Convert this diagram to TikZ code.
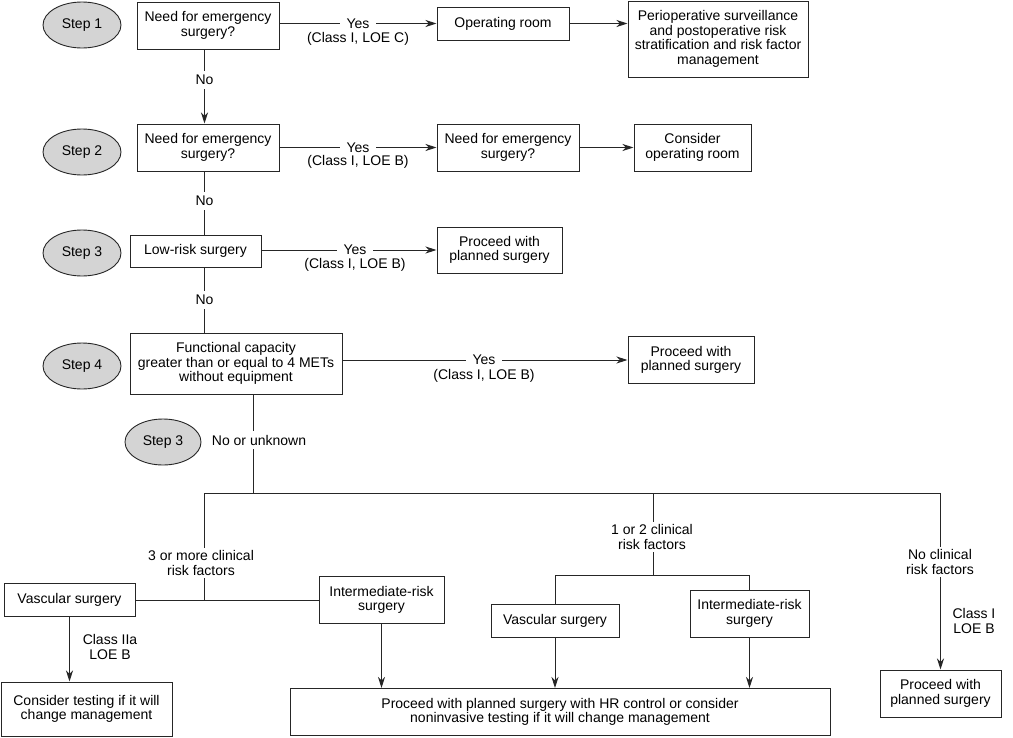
\documentclass[tikz,border=0pt]{standalone}
\usepackage{fontspec}
\setmainfont{Liberation Sans}
\usetikzlibrary{arrows.meta,shapes.geometric}
\begin{document}
\begin{tikzpicture}[x=1pt,y=-1pt,
  every node/.style={font=\fontsize{14}{14.6}\selectfont, text=black},
  box/.style={draw=black!85, line width=1pt, align=center, inner sep=0pt},
  stepel/.style={ellipse, draw=black!85, line width=0.9pt, fill=black!17, minimum width=78pt, minimum height=46pt, inner sep=0pt},
  line/.style={draw=black!85, line width=1pt},
  arr/.style={line, -{Stealth[length=11pt,width=7pt,inset=3.5pt]}},
  lbl/.style={fill=white, inner xsep=7pt, inner ysep=4pt, align=center},
  note/.style={inner sep=0pt, align=center},
]
\useasboundingbox (0,0) rectangle (1013,737);

% step ellipses
\node[stepel] (s1) at (82,25) {Step 1};
\node[stepel] (s2) at (82,152) {Step 2};
\node[stepel] (s3) at (82,253) {Step 3};
\node[stepel] (s4) at (82,366) {Step 4};
\node[stepel, minimum width=76pt] (s3b) at (163,442) {Step 3};

% boxes
\node[box, minimum width=142pt, minimum height=47pt] (b1) at (208,25.5) {Need for emergency\\surgery?};
\node[box, minimum width=132pt, minimum height=33pt] (op) at (503,23.5) {Operating room};
\node[box, minimum width=180pt, minimum height=76pt] (peri) at (718,39) {Perioperative surveillance\\and postoperative risk\\stratification and risk factor\\management};

\node[box, minimum width=142pt, minimum height=47pt] (b2) at (208,147.5) {Need for emergency\\surgery?};
\node[box, minimum width=142pt, minimum height=47pt] (ne2) at (508,147.5) {Need for emergency\\surgery?};
\node[box, minimum width=117pt, minimum height=47pt] (cor) at (692.5,147.5) {Consider\\operating room};

\node[box, minimum width=131pt, minimum height=32pt] (lr) at (195.5,251) {Low-risk surgery};
\node[box, minimum width=125pt, minimum height=46pt] (p3) at (499.5,250) {Proceed with\\planned surgery};

\node[box, minimum width=212pt, minimum height=61pt] (func) at (236,363.5) {Functional capacity\\greater than or equal to 4 METs\\without equipment};
\node[box, minimum width=126pt, minimum height=47pt] (p4) at (691,360) {Proceed with\\planned surgery};

\node[box, minimum width=131pt, minimum height=33pt] (vs1) at (69.5,600) {Vascular surgery};
\node[box, minimum width=125pt, minimum height=47pt] (im1) at (381.5,600) {Intermediate-risk\\surgery};
\node[box, minimum width=171pt, minimum height=54pt] (ct) at (86.5,709) {Consider testing if it will\\change management};
\node[box, minimum width=540pt, minimum height=47pt] (big) at (560,712) {Proceed with planned surgery with HR control or consider\\noninvasive testing if it will change management};
\node[box, minimum width=128pt, minimum height=33pt] (vs2) at (555,620.5) {Vascular surgery};
\node[box, minimum width=119pt, minimum height=47pt] (im2) at (749.5,613.5) {Intermediate-risk\\surgery};
\node[box, minimum width=121pt, minimum height=47pt] (pr) at (940.5,693.5) {Proceed with\\planned surgery};

% spine coordinates
\coordinate (sp) at (204.5,0);
\coordinate (j0) at (253,493);
\coordinate (jl) at (204.5,493);
\coordinate (jr) at (940.5,493);
\coordinate (jm) at (653,493);
\coordinate (jm2) at (653,575);

% row connectors
\draw[arr] (b1.east |- op.west) -- (op.west);
\draw[arr] (op.east) -- (op.east -| peri.west);
\draw[arr] (b1.south -| sp) -- (b2.north -| sp);
\draw[arr] (b2.east) -- (ne2.west);
\draw[arr] (ne2.east) -- (cor.west);
\draw[line] (b2.south -| sp) -- (lr.north -| sp);
\draw[arr] (lr.east |- p3.west) -- (p3.west);
\draw[line] (lr.south -| sp) -- (func.north -| sp);
\draw[arr] (func.east |- p4.west) -- (p4.west);

% lower tree
\draw[line] (func.south -| j0) -- (j0);
\draw[line] (jl) -- (jr);
\draw[line] (jl) -- (jl |- vs1.east);
\draw[line] (vs1.east) -- (im1.west);
\draw[arr] (vs1.south) -- (vs1.south |- ct.north);
\draw[arr] (im1.south) -- (im1.south |- big.north);
\draw[line] (jm) -- (jm2);
\draw[line] (vs2.north |- jm2) -- (im2.north |- jm2);
\draw[line] (vs2.north |- jm2) -- (vs2.north);
\draw[line] (im2.north |- jm2) -- (im2.north);
\draw[arr] (vs2.south) -- (vs2.south |- big.north);
\draw[arr] (im2.south) -- (im2.south |- big.north);
\draw[arr] (jr) -- (pr.north);

% labels on lines
\node[lbl] (y1) at (358,23.5) {Yes};
\node[note] (c1) at (358,39) {(Class I, LOE C)};
\node[lbl] (y2) at (358,147.5) {Yes};
\node[note] (c2) at (358,162) {(Class I, LOE B)};
\node[lbl] (y3) at (355,250) {Yes};
\node[note] (c3) at (355,265) {(Class I, LOE B)};
\node[lbl] (y4) at (484,360) {Yes};
\node[note] (c4) at (484,376) {(Class I, LOE B)};
\node[lbl] (n1) at (204.5,80) {No};
\node[lbl] (n2) at (204.5,201) {No};
\node[lbl] (n3) at (204.5,300) {No};
\node[lbl, inner xsep=2pt] (nu) at (259,440) {No or unknown};
\node[lbl, inner ysep=3pt, inner xsep=2pt] (r3) at (201,563) {3 or more clinical\\risk factors};
\node[lbl, inner ysep=3pt, inner xsep=2pt] (r12) at (652,537) {1 or 2 clinical\\risk factors};
\node[lbl, inner ysep=3pt, inner xsep=2pt] (r0) at (940,562) {No clinical\\risk factors};
\node[note] (cl1) at (110,647) {Class IIa\\LOE B};
\node[note] (cl2) at (974,621) {Class I\\LOE B};
\end{tikzpicture}
\end{document}
